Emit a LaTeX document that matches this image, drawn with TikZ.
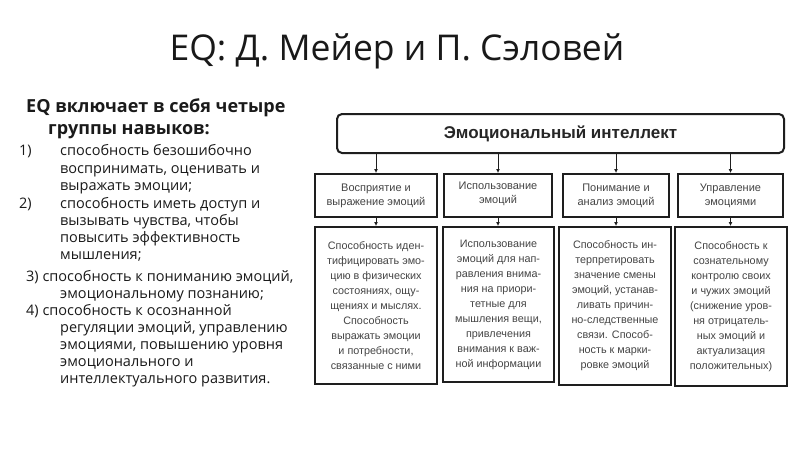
\documentclass[tikz,border=0pt]{standalone}
\usepackage{fontspec}
\setmainfont{Open Sans}
\newfontfamily\diagfont{Liberation Sans}
\usetikzlibrary{arrows.meta}
\definecolor{txt}{HTML}{1A1A1A}
\definecolor{boxtxt}{HTML}{444444}
\definecolor{edge}{HTML}{1E1E1E}
\tikzset{
  lline/.style={anchor=base west, inner sep=0pt, text=txt, font=\fontsize{14.5}{17}\selectfont},
  hline/.style={anchor=base west, inner sep=0pt, text=txt, font=\bfseries\fontsize{18}{21}\selectfont},
  topbox/.style={draw=edge, line width=2pt, rounded corners=5pt, fill=white, inner sep=0pt,
    font=\diagfont\bfseries\fontsize{17}{20}\selectfont, text=black!85},
  headbox/.style={draw=edge, line width=2pt, fill=white, inner sep=0pt, align=center,
    font=\diagfont\fontsize{11}{14}\selectfont, text=boxtxt},
  bodybox/.style={draw=edge, line width=2pt, fill=white, inner sep=0pt, align=center,
    font=\diagfont\fontsize{10.8}{15}\selectfont, text=boxtxt},
  arr/.style={draw=edge, line width=1pt, -{Latex[length=4pt,width=4pt]}},
}
\begin{document}
\begin{tikzpicture}[x=1pt,y=-1pt]
\useasboundingbox (0,0) rectangle (800,450);
\fill[white] (0,0) rectangle (800,450);

% title
\node[font=\fontsize{35.5}{40}\selectfont, text=black!90, inner sep=0pt, anchor=base] (title) at (397,60) {EQ: Д. Мейер и П. Сэловей};

% left text
\node[hline] (h1) at (26,112) {EQ включает в себя четыре};
\node[hline] (h2) at (48,134) {группы навыков:};
\node[lline] (n1) at (19,155) {1)};
\node[lline] (l1a) at (60,155) {способность безошибочно};
\node[lline] (l1b) at (60,173) {воспринимать, оценивать и};
\node[lline] (l1c) at (60,190) {выражать эмоции;};
\node[lline] (n2) at (19,208) {2)};
\node[lline] (l2a) at (60,208) {способность иметь доступ и};
\node[lline] (l2b) at (60,225) {вызывать чувства, чтобы};
\node[lline] (l2c) at (60,242) {повысить эффективность};
\node[lline] (l2d) at (60,259) {мышления;};
\node[lline] (l3a) at (26,281) {3) способность к пониманию эмоций,};
\node[lline] (l3b) at (60,298) {эмоциональному познанию;};
\node[lline] (l4a) at (26,315) {4) способность к осознанной};
\node[lline] (l4b) at (60,332) {регуляции эмоций, управлению};
\node[lline] (l4c) at (60,349) {эмоциями, повышению уровня};
\node[lline] (l4d) at (60,366) {эмоционального и};
\node[lline] (l4e) at (60,383) {интеллектуального развития.};

% diagram
\node[topbox, minimum width=447pt, minimum height=39pt] (top) at (560.5,133.5) {Эмоциональный интеллект};

\node[headbox, minimum width=122pt, minimum height=43pt] (a1) at (376,195.5) {Восприятие и\\выражение эмоций};
\node[headbox, minimum width=108pt, minimum height=43pt] (a2) at (498,195.5) {Использование\\эмоций\\[-8pt]\mbox{}};
\node[headbox, minimum width=106pt, minimum height=43pt] (a3) at (616,195.5) {Понимание и\\анализ эмоций};
\node[headbox, minimum width=105pt, minimum height=43pt] (a4) at (730.5,195.5) {Управление\\эмоциями};

\node[bodybox, minimum width=122pt, minimum height=157pt] (b1) at (376,305.5) {Способность иден-\\тифицировать эмо-\\цию в физических\\состояниях, ощу-\\щениях и мыслях.\\Способность\\выражать эмоции\\и потребности,\\связанные с ними};
\node[bodybox, minimum width=111pt, minimum height=155pt] (b2) at (498.5,304.5) {Использование\\эмоций для нап-\\равления внима-\\ния на приори-\\тетные для\\мышления вещи,\\привлечения\\внимания к важ-\\ной информации};
\node[bodybox, minimum width=112pt, minimum height=158pt] (b3) at (615,306) {Способность ин-\\терпретировать\\значение смены\\эмоций, устанав-\\ливать причин-\\но-следственные\\связи. Способ-\\ность к марки-\\ровке эмоций};
\node[bodybox, minimum width=112pt, minimum height=159pt] (b4) at (731,306.5) {Способность к\\сознательному\\контролю своих\\и чужих эмоций\\(снижение уров-\\ня отрицатель-\\ных эмоций и\\актуализация\\положительных)};

\foreach \i in {1,2,3,4} {
  \draw[arr] (a\i.north |- top.south) -- (a\i.north);
  \draw[arr] (a\i.south) -- (a\i.south |- b\i.north);
}
\end{tikzpicture}
\end{document}
